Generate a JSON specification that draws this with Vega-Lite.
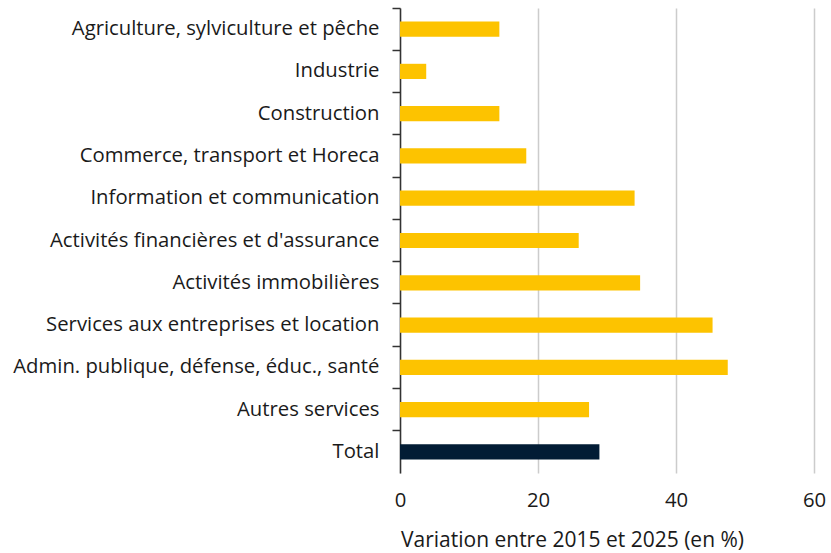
{
  "$schema": "https://vega.github.io/schema/vega-lite/v6.json",
  "autosize": "none",
  "padding": {"left": 400, "top": 8, "right": 17, "bottom": 80},
  "width": 414,
  "height": 465,
  "background": "white",
  "config": {"font": "Open Sans", "view": {"stroke": null}},
  "data": {"values": [
    {"secteur": "Agriculture, sylviculture et pêche", "valeur": 14.4, "groupe": "s"},
    {"secteur": "Industrie", "valeur": 3.8, "groupe": "s"},
    {"secteur": "Construction", "valeur": 14.4, "groupe": "s"},
    {"secteur": "Commerce, transport et Horeca", "valeur": 18.3, "groupe": "s"},
    {"secteur": "Information et communication", "valeur": 34.0, "groupe": "s"},
    {"secteur": "Activités financières et d'assurance", "valeur": 25.9, "groupe": "s"},
    {"secteur": "Activités immobilières", "valeur": 34.8, "groupe": "s"},
    {"secteur": "Services aux entreprises et location", "valeur": 45.3, "groupe": "s"},
    {"secteur": "Admin. publique, défense, éduc., santé", "valeur": 47.5, "groupe": "s"},
    {"secteur": "Autres services", "valeur": 27.4, "groupe": "s"},
    {"secteur": "Total", "valeur": 28.9, "groupe": "t"}
  ]},
  "mark": {"type": "bar", "height": {"band": 0.36}},
  "encoding": {
    "y": {
      "field": "secteur", "type": "nominal", "sort": null,
      "scale": {"padding": 0},
      "axis": {
        "title": null, "bandPosition": 0,
        "labelFontSize": 20.3, "labelColor": "#1a1a1a", "labelPadding": 13,
        "labelLimit": 0,
        "tickSize": 8, "tickColor": "#333333", "tickWidth": 1.5,
        "domainColor": "#333333", "domainWidth": 1.5,
        "grid": false
      }
    },
    "x": {
      "field": "valeur", "type": "quantitative",
      "scale": {"domain": [0, 60], "nice": false},
      "axis": {
        "values": [0, 20, 40, 60], "title": "Variation entre 2015 et 2025 (en %)",
        "titleFontSize": 21, "titleFontWeight": "normal", "titleColor": "#1a1a1a",
        "titlePadding": 19, "titleX": 172, "titleAlign": "center",
        "labelFontSize": 20.3, "labelColor": "#1a1a1a", "labelPadding": 17,
        "labelFlush": false,
        "domain": false, "ticks": false,
        "grid": true, "gridColor": "#cccccc", "gridWidth": 1.5
      }
    },
    "color": {
      "field": "groupe", "type": "nominal",
      "scale": {"domain": ["s", "t"], "range": ["#FDC300", "#021C35"]},
      "legend": null
    }
  }
}
